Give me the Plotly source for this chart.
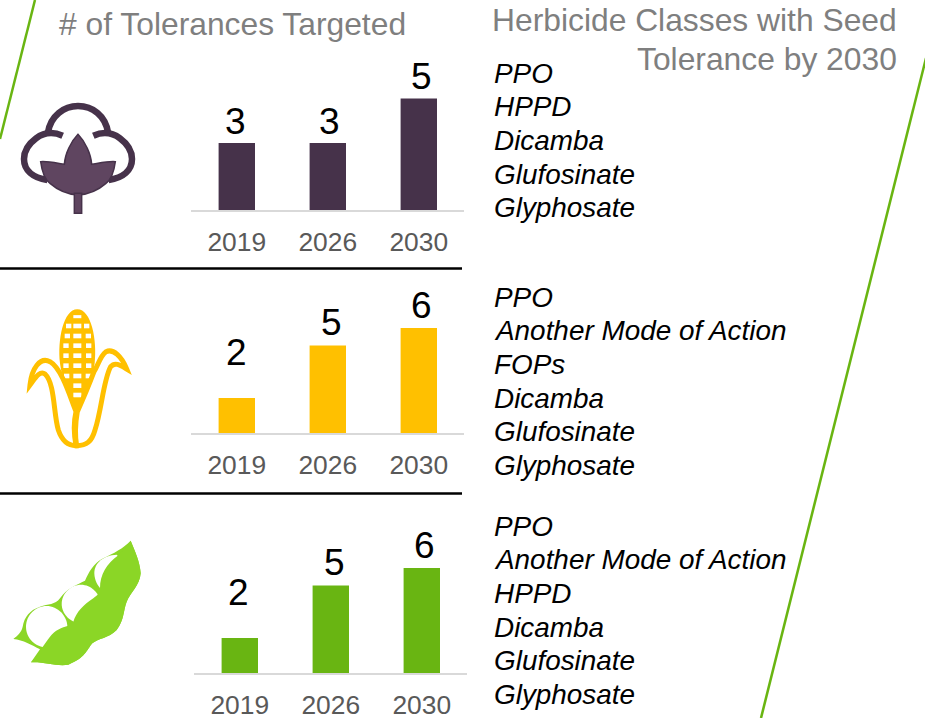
import re
import plotly.graph_objects as go

W, H = 925, 718
years = ["2019", "2026", "2030"]
cotton_counts = [3, 3, 5]
corn_counts = [2, 5, 6]
soy_counts = [2, 5, 6]
cotton_classes = ["PPO", "HPPD", "Dicamba", "Glufosinate", "Glyphosate"]
corn_classes = ["PPO", "Another Mode of Action", "FOPs", "Dicamba", "Glufosinate", "Glyphosate"]
soy_classes = ["PPO", "Another Mode of Action", "HPPD", "Dicamba", "Glufosinate", "Glyphosate"]
title_left = "# of Tolerances Targeted"
title_right = ["Herbicide Classes with Seed", "Tolerance by 2030"]

FONT = "Liberation Sans, Arial, sans-serif"
DARK, GOLD, GREEN, POD = "#46324a", "#ffc000", "#69b512", "#8bd626"

fig = go.Figure()
panels = [
    (cotton_counts, DARK, 191.3, 464.3, 210, 22.3, "", [-1, 2, 3], [22, 22, 22]),
    (corn_counts, GOLD, 191.3, 464.3, 433, 17.5, "2", [0, 4, 3], [46, 23, 23]),
    (soy_counts, GREEN, 194.3, 467.3, 673, 17.5, "3", [-1, 4, 3], [46, 23, 23]),
]
layout = {}
ann = []
for vals, color, x0, x1, base, ppu, s, dxs, lifts in panels:
    fig.add_trace(go.Bar(x=years, y=vals, width=0.4, marker=dict(color=color, line=dict(width=0)),
                         cliponaxis=False, xaxis="x" + s, yaxis="y" + s, hoverinfo="skip", showlegend=False))
    top = base - 130
    layout["xaxis" + s] = dict(domain=[x0 / W, x1 / W], anchor="y" + s, type="category",
                               categoryorder="array", categoryarray=years, range=[-0.5, 2.5],
                               showgrid=False, zeroline=False, showline=True, linecolor="#d9d9d9", linewidth=2,
                               ticks="", ticklabelstandoff=7, automargin=False,
                               tickfont=dict(family=FONT, size=26.4, color="#595959"))
    layout["yaxis" + s] = dict(domain=[1 - base / H, 1 - top / H], anchor="x" + s, range=[0, 130 / ppu],
                               visible=False, showgrid=False, zeroline=False, automargin=False)
    for i, (v, dx, lift) in enumerate(zip(vals, dxs, lifts)):
        ann.append(dict(xref="x" + s, yref="y" + s, x=i, y=v, text=str(v), showarrow=False,
                        xanchor="center", yanchor="middle", xshift=dx, yshift=lift,
                        font=dict(family=FONT, size=37, color="#000000")))


def P(ox, oy, d, scale=3.0):
    """Icon outline written in zoomed-crop pixels, converted to paper fractions."""
    def rep(m):
        x = float(m.group(1)) / scale + ox
        y = float(m.group(2)) / scale + oy
        return f"{x / W:.5f},{1 - y / H:.5f}"
    return re.sub(r"(-?[\d.]+),(-?[\d.]+)", rep, d)


shapes = []


def add(d, fill=None, stroke=None, lw=0, ox=0, oy=0):
    shapes.append(dict(type="path", xref="paper", yref="paper", path=P(ox, oy, d),
                       fillcolor=fill if fill else "rgba(0,0,0,0)",
                       line=dict(color=stroke if stroke else "rgba(0,0,0,0)", width=lw)))


def seg(x0, y0, x1, y1, color, lw):
    shapes.append(dict(type="line", xref="paper", yref="paper", x0=x0 / W, x1=x1 / W,
                       y0=1 - y0 / H, y1=1 - y1 / H, line=dict(color=color, width=lw)))


seg(35, 0, 0, 139, GREEN, 2.5)
seg(926, 58, 761, 718, GREEN, 2.5)
seg(0, 268.5, 462, 268.5, "#000000", 2.5)
seg(0, 493.5, 462, 493.5, "#000000", 2.5)

# cotton icon
o = (10, 95)
C2 = "#5f4560"
add("M114,112 C122,62 162,33 204,33 C248,33 286,62 294,112", None, DARK, 6.5, *o)
add("M158,122 C130,110 102,112 78,130 C55,147 42,170 42,192 C42,225 68,248 112,255", None, DARK, 6.5, *o)
add("M250,122 C278,110 306,112 330,130 C353,147 366,170 366,192 C366,225 340,248 296,255", None, DARK, 6.5, *o)
add("M204,118 C225,140 243,175 245,208 C265,205 295,198 316,200 C312,230 302,255 288,265 "
    "C265,285 235,298 204,300 C173,298 143,285 120,265 C106,255 96,230 92,200 "
    "C113,198 143,205 163,208 C165,175 183,140 204,118 Z", C2, DARK, 1.5, *o)
add("M193,295 L215,295 L215,355 L193,355 Z", C2, DARK, 1.5, *o)

# corn icon
o = (20, 300)
add("M172,335 C150,280 125,240 120,190 C112,120 130,28 172,28 C214,28 232,120 224,190 "
    "C219,240 194,280 172,335 Z", GOLD, None, 0, *o)
rows = [(50, [172], 6), (78, [146, 172, 200], 9), (108, [142, 172, 205], 9), (137, [138, 172, 206], 9),
        (167, [138, 172, 206], 9), (197, [138, 172, 206], 9), (228, [140, 172, 205], 9),
        (257, [172], 9), (285, [172], 9)]
for y, cols, hh in rows:
    for cx in cols:
        hw = 12 if cx == 172 else 8
        add(f"M{cx - hw},{y - hh / 1.3} L{cx + hw},{y - hh / 1.3} L{cx + hw},{y + hh / 1.3} L{cx - hw},{y + hh / 1.3} Z",
            "#ffffff", None, 0, *o)
add("M30,255 C35,205 60,170 90,185 C125,205 150,290 168,335 C160,370 163,410 168,437 "
    "C140,437 125,420 115,390 C100,340 105,250 75,222 C60,210 45,235 30,255 Z", "#ffffff", GOLD, 5, *o)
add("M320,207 C305,170 280,145 258,155 C240,168 235,195 222,215 C205,260 190,295 172,335 "
    "C166,370 165,410 170,437 C200,437 215,425 225,390 C245,330 250,240 272,200 C285,185 300,195 320,207 Z",
    "#ffffff", GOLD, 5, *o)

# soybean icon
o = (5, 530)
add("M377,32 C390,65 405,95 407,130 C405,165 375,190 365,215 C355,240 358,270 335,300 "
    "C310,325 280,325 262,340 C245,360 240,385 190,404 C155,410 120,395 78,397 L105,358 "
    "C80,345 55,330 25,327 C40,315 50,305 53,290 C58,260 75,240 105,230 C130,222 150,225 165,205 "
    "C185,175 215,165 240,152 C250,130 265,100 295,85 C325,70 355,55 377,32 Z", POD, None, 0, *o)
add("M63,290 C63,255 92,228 125,228 C158,228 187,258 187,290 C187,325 158,352 125,352 C92,352 63,325 63,290 Z",
    "#ffffff", None, 0, *o)
add("M170,222 C170,190 198,164 228,164 C258,164 286,190 286,222 C286,252 258,280 228,280 C198,280 170,252 170,222 Z",
    "#ffffff", None, 0, *o)
add("M268,128 C268,100 295,75 335,74 C345,75 345,170 320,190 C290,190 268,160 268,128 Z", "#ffffff", None, 0, *o)
add("M377,32 C390,65 405,95 407,130 C405,165 375,190 365,215 C355,240 358,270 335,300 "
    "C310,325 280,325 262,340 C245,360 240,385 190,404 C155,410 120,395 78,397 C100,375 115,345 135,320 "
    "C150,300 170,292 190,287 L205,275 C215,245 235,225 265,205 C278,195 285,190 285,175 "
    "C285,135 305,100 340,76 C355,60 370,45 377,32 Z", POD, None, 0, *o)


def text(x, y, s, size, color, anchor="left", italic=False):
    ann.append(dict(xref="paper", yref="paper", x=x / W, y=1 - y / H, text=s, showarrow=False,
                    xanchor=anchor, yanchor="middle", align=anchor,
                    font=dict(family=FONT, size=size, color=color,
                              style="italic" if italic else "normal"), borderpad=0))


text(58, 24, title_left, 31.8, "#7f7f7f")
text(898, 20, title_right[0], 31.8, "#7f7f7f", "right")
text(898, 59, title_right[1], 31.8, "#7f7f7f", "right")
for start, items in [(73, cotton_classes), (297, corn_classes), (526, soy_classes)]:
    for i, item in enumerate(items):
        text(493, start + i * 33.7, item, 27.9, "#000000", italic=True)

fig.update_layout(width=W, height=H, margin=dict(l=0, r=0, t=0, b=0), paper_bgcolor="#ffffff",
                  plot_bgcolor="#ffffff", shapes=shapes, annotations=ann, showlegend=False, **layout)
fig.write_html("out.html", config={"displayModeBar": False}, post_script="document.body.style.margin='0';")
